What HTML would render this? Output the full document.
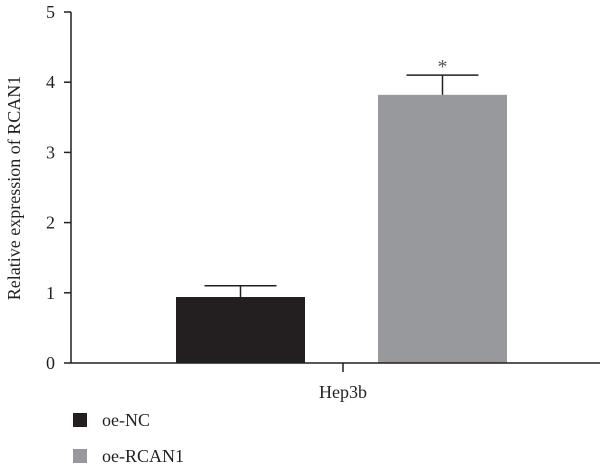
<!DOCTYPE html>
<html><head><meta charset="utf-8"><style>
body{margin:0;background:#fff}
svg{display:block;font-family:"Liberation Serif",serif}
</style></head><body>
<svg id="c" width="600" height="472" viewBox="0 0 600 472"></svg>
<script>
const categories=["oe-NC","oe-RCAN1"];
const values=[0.94,3.82];
const errUpper=[1.10,4.10];
const errLower=[0.75,3.82];
const colors=["#231f20","#97999c"];
const yTicks=[0,1,2,3,4,5];
const groupLabel="Hep3b";
const sig=["","*"];
const ns="http://www.w3.org/2000/svg";
const svg=document.getElementById('c');
const y0=363,y1=12,ax=71;
const y=v=>y0-(v/5)*(y0-y1);
const barX=[176,378],barW=129;
function mk(t,a,txt){const e=document.createElementNS(ns,t);for(const k in a)e.setAttribute(k,a[k]);if(txt!==undefined)e.textContent=txt;svg.appendChild(e);return e;}
let e;
e=mk('line',{x1:ax,y1:y1,x2:ax,y2:y0,stroke:'#231f20','stroke-width':1.5});


yTicks.forEach(t=>{
 e=mk('line',{x1:64,y1:y(t),x2:ax,y2:y(t),stroke:'#231f20','stroke-width':1.5});
 
 
 e=mk('text',{x:55,y:y(t)+6,'text-anchor':'end','font-size':18,fill:'#231f20'},t);
 
 
});
e=mk('text',{x:20,y:188,'text-anchor':'middle','font-size':18,fill:'#231f20',transform:'rotate(-90 20 188)'},'Relative expression of RCAN1');


values.forEach((v,i)=>{
 const cx=barX[i]+barW/2;
 e=mk('rect',{x:barX[i],y:y(v),width:barW,height:y0-y(v),fill:colors[i]});
 
 
 e=mk('line',{x1:cx,y1:y(errUpper[i]),x2:cx,y2:y(errLower[i]),stroke:'#231f20','stroke-width':1.5});
 
 
 e=mk('line',{x1:cx-36,y1:y(errUpper[i]),x2:cx+36,y2:y(errUpper[i]),stroke:'#231f20','stroke-width':1.5});
 
 
 if(sig[i]){
  e=mk('text',{x:cx,y:y(errUpper[i])-2,'text-anchor':'middle','font-size':20,fill:'#555'},sig[i]);
  
  
 }
});
e=mk('line',{x1:ax,y1:y0,x2:600,y2:y0,stroke:'#231f20','stroke-width':1.5});


e=mk('line',{x1:343,y1:y0,x2:343,y2:372,stroke:'#231f20','stroke-width':1.5});


e=mk('text',{x:343,y:398,'text-anchor':'middle','font-size':18,fill:'#231f20'},groupLabel);


categories.forEach((c,i)=>{
 const ly=420+i*36;
 e=mk('rect',{x:73,y:ly-7,width:14,height:14,fill:colors[i]});
 
 
 e=mk('text',{x:102,y:ly+6,'font-size':18,fill:'#231f20'},c);
 
 
});
</script>
</body></html>
